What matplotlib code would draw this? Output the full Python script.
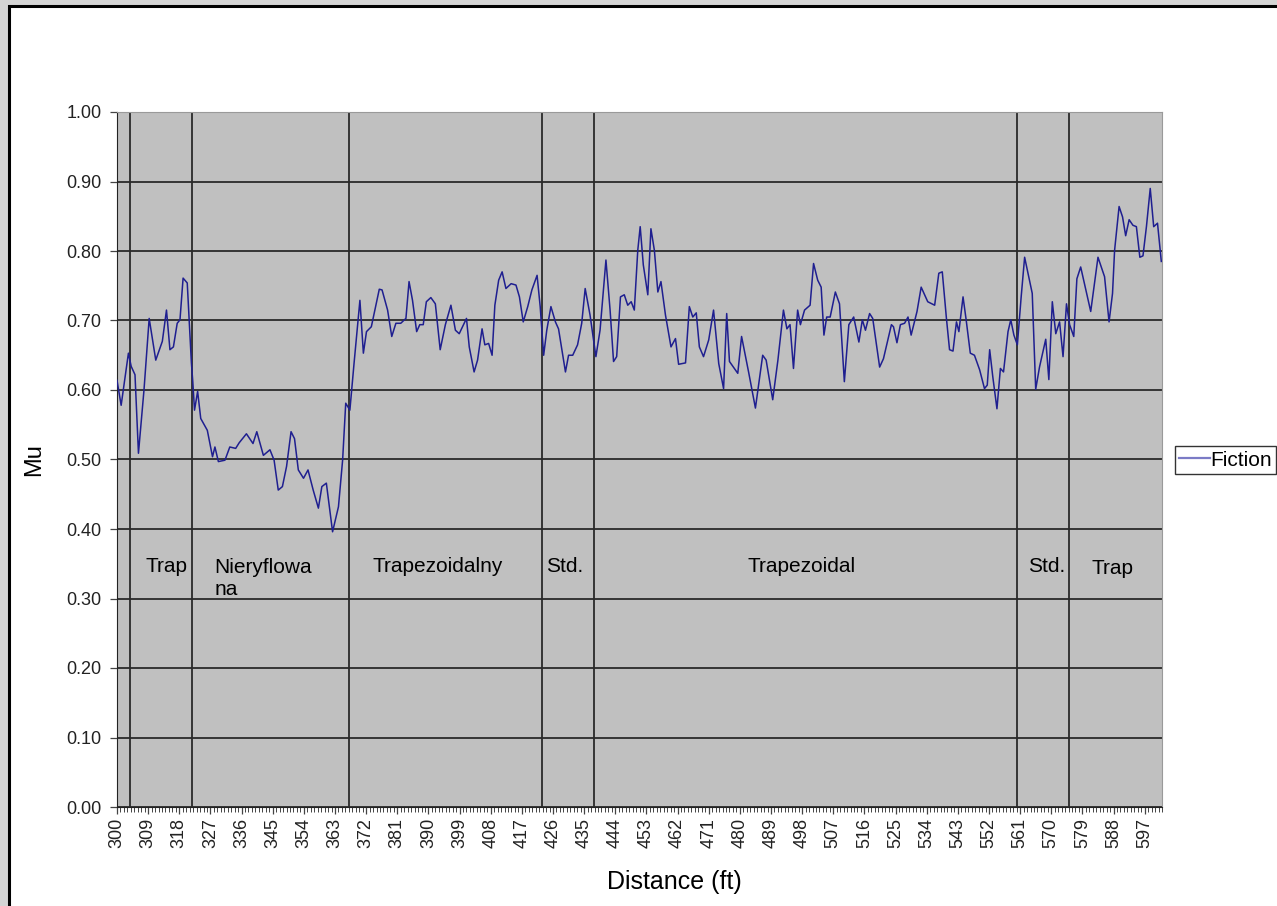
"""
Friction (Mu) vs distance chart - Excel style recreation
"""
import matplotlib
matplotlib.use('Agg')
import matplotlib.pyplot as plt
from matplotlib.lines import Line2D
from matplotlib.patches import Rectangle
from matplotlib.ticker import MultipleLocator, FormatStrFormatter

plt.rcParams['font.family'] = ['Liberation Sans', 'DejaVu Sans']

# Distance (ft) and friction value
distance_ft = [
    300.0, 301.2, 303.3, 304.1, 305.2, 306.2, 307.8, 309.3, 311.2, 313.1,
    314.3, 315.3, 316.3, 317.4, 318.2, 319.1, 320.3, 321.5, 321.9, 322.4,
    323.3, 324.2, 326.1, 327.6, 328.3, 329.3, 331.2, 332.6, 334.3, 335.3,
    337.4, 339.3, 340.4, 342.3, 344.2, 345.4, 346.6, 347.8, 349.0, 350.3,
    351.3, 352.4, 353.9, 355.2, 356.7, 358.2, 359.2, 360.5, 362.3, 364.0,
    365.2, 366.1, 367.3, 368.5, 370.2, 371.2, 372.1, 373.5, 375.8, 376.6,
    378.2, 379.4, 380.6, 382.0, 383.5, 384.4, 385.4, 386.6, 387.5, 388.5,
    389.4, 390.7, 392.0, 393.4, 394.9, 396.5, 397.8, 398.9, 401.0, 401.8,
    403.2, 404.2, 405.5, 406.3, 407.4, 408.4, 409.2, 410.3, 411.3, 412.4,
    413.9, 415.3, 416.3, 417.4, 418.7, 419.9, 421.4, 422.3, 423.3, 424.2,
    425.4, 426.7, 427.6, 429.6, 430.5, 431.7, 433.1, 434.3, 435.3, 436.7,
    438.4, 439.6, 441.3, 442.5, 443.5, 444.4, 445.5, 446.6, 447.6, 448.6,
    449.5, 450.5, 451.2, 452.1, 453.4, 454.3, 455.3, 456.3, 457.2, 458.5,
    460.1, 461.4, 462.3, 464.3, 465.4, 466.4, 467.4, 468.3, 469.5, 471.0,
    472.4, 473.9, 475.3, 476.2, 477.0, 479.4, 480.5, 482.6, 484.5, 486.6,
    487.6, 489.5, 491.0, 492.6, 493.6, 494.5, 495.5, 496.7, 497.5, 498.7,
    500.3, 501.3, 502.5, 503.5, 504.3, 505.1, 506.1, 507.6, 508.8, 510.2,
    511.5, 512.9, 514.4, 515.4, 516.3, 517.5, 518.4, 520.4, 521.5, 523.8,
    524.4, 525.4, 526.4, 527.6, 528.6, 529.5, 531.2, 532.4, 534.3, 536.3,
    537.5, 538.5, 539.7, 540.6, 541.6, 542.6, 543.3, 544.5, 545.4, 546.6,
    547.8, 549.3, 550.7, 551.5, 552.2, 553.1, 554.3, 555.3, 556.2, 557.5,
    558.3, 559.2, 560.2, 561.3, 562.3, 563.5, 564.5, 565.5, 566.6, 568.4,
    569.3, 570.3, 571.3, 572.4, 573.4, 574.4, 575.3, 576.5, 577.4, 578.5,
    579.9, 581.4, 583.5, 585.4, 586.7, 587.7, 588.3, 589.6, 590.6, 591.5,
    592.5, 593.6, 594.6, 595.6, 596.5, 597.5, 598.6, 599.6, 600.7, 601.8,
]
mu = [
    0.614, 0.578, 0.653, 0.634, 0.622, 0.509, 0.600, 0.703, 0.643, 0.670,
    0.715, 0.658, 0.662, 0.696, 0.701, 0.761, 0.754, 0.639, 0.612, 0.571,
    0.598, 0.559, 0.542, 0.504, 0.518, 0.497, 0.499, 0.518, 0.516, 0.524,
    0.537, 0.523, 0.540, 0.506, 0.514, 0.499, 0.456, 0.461, 0.490, 0.540,
    0.530, 0.485, 0.473, 0.485, 0.456, 0.430, 0.461, 0.466, 0.396, 0.432,
    0.499, 0.581, 0.571, 0.638, 0.729, 0.653, 0.684, 0.691, 0.745, 0.744,
    0.715, 0.677, 0.696, 0.696, 0.703, 0.756, 0.729, 0.684, 0.694, 0.694,
    0.727, 0.733, 0.724, 0.658, 0.694, 0.722, 0.686, 0.681, 0.703, 0.662,
    0.626, 0.643, 0.688, 0.665, 0.667, 0.650, 0.722, 0.758, 0.770, 0.746,
    0.753, 0.751, 0.734, 0.698, 0.720, 0.744, 0.765, 0.720, 0.650, 0.686,
    0.720, 0.698, 0.688, 0.626, 0.650, 0.650, 0.665, 0.696, 0.746, 0.708,
    0.648, 0.686, 0.787, 0.715, 0.641, 0.648, 0.734, 0.737, 0.722, 0.727,
    0.715, 0.801, 0.835, 0.780, 0.737, 0.832, 0.801, 0.741, 0.756, 0.708,
    0.662, 0.674, 0.637, 0.639, 0.720, 0.705, 0.711, 0.662, 0.648, 0.672,
    0.715, 0.638, 0.602, 0.710, 0.641, 0.624, 0.677, 0.624, 0.574, 0.650,
    0.643, 0.586, 0.643, 0.715, 0.688, 0.694, 0.631, 0.715, 0.694, 0.715,
    0.722, 0.782, 0.758, 0.748, 0.679, 0.705, 0.705, 0.741, 0.724, 0.612,
    0.694, 0.705, 0.669, 0.701, 0.686, 0.710, 0.703, 0.633, 0.645, 0.694,
    0.691, 0.668, 0.694, 0.696, 0.705, 0.679, 0.713, 0.748, 0.727, 0.722,
    0.768, 0.770, 0.703, 0.658, 0.656, 0.698, 0.684, 0.734, 0.701, 0.653,
    0.650, 0.629, 0.602, 0.607, 0.658, 0.619, 0.573, 0.631, 0.626, 0.684,
    0.701, 0.679, 0.665, 0.734, 0.791, 0.763, 0.739, 0.601, 0.633, 0.673,
    0.615, 0.727, 0.681, 0.698, 0.648, 0.724, 0.694, 0.677, 0.760, 0.777,
    0.746, 0.713, 0.791, 0.763, 0.698, 0.739, 0.801, 0.864, 0.849, 0.822,
    0.845, 0.837, 0.835, 0.791, 0.793, 0.835, 0.890, 0.835, 0.840, 0.785,
]

# Section boundaries (ft) and section names
section_bounds = [303.8, 321.7, 367.1, 422.9, 437.9, 560.0, 575.0]
section_names = ['Trap', 'Nieryflowa\nna', 'Trapezoidalny', 'Std.',
                 'Trapezoidal', 'Std.', 'Trap']
# where each name sits (left edge in ft, vertical centre in Mu)
label_pos = [(308.1, 0.346), (328.1, 0.329), (373.7, 0.346), (424.1, 0.346),
             (482.2, 0.346), (563.2, 0.346), (581.7, 0.343)]

W, H = 1277, 906
fig = plt.figure(figsize=(W / 100, H / 100), dpi=100)
fig.patch.set_facecolor('#d4d4d4')

# white page with black left/top frame
page = Rectangle((8.5 / W, -0.05), 1.1, (H - 6) / H + 0.05,
                 transform=fig.transFigure, facecolor='white',
                 edgecolor='black', linewidth=2.2, zorder=-10)
fig.patches.append(page)

ax = fig.add_axes([117 / W, 99 / H, (1162 - 117) / W, (807 - 112) / H])
ax.set_facecolor('#c0c0c0')

ax.plot(distance_ft, mu, color='#1f1f90', linewidth=1.1, zorder=5)

ax.set_xlim(300, 602)
ax.set_ylim(0, 1.0)

# horizontal gridlines
ax.yaxis.set_major_locator(MultipleLocator(0.1))
ax.yaxis.set_major_formatter(FormatStrFormatter('%.2f'))
ax.grid(True, axis='y', color='#2a2a2a', linewidth=1.3, zorder=1)

# section boundary lines
for b in section_bounds:
    ax.axvline(b, color='#2a2a2a', linewidth=1.3, zorder=2)

for name, (lx, ly) in zip(section_names, label_pos):
    ax.text(lx, ly, name, fontsize=15, ha='left', va='center',
            linespacing=1.2, color='black', zorder=6)

# x ticks: labels every 9 ft, small ticks every ft
ax.xaxis.set_minor_locator(MultipleLocator(1))
ax.xaxis.set_major_formatter(FormatStrFormatter('%d'))
ax.set_xticks(range(300, 600, 9))
for lab in ax.get_xticklabels():
    lab.set_rotation(90)

ax.tick_params(axis='x', which='major', direction='out', length=5,
               width=0.9, labelsize=13, pad=3, colors='#444444',
               labelcolor='#222222')
ax.tick_params(axis='x', which='minor', direction='out', length=3.5,
               width=0.7, colors='#444444')
ax.tick_params(axis='y', direction='out', length=5, width=0.9,
               labelsize=13, pad=6, colors='#444444', labelcolor='#222222')

ax.spines['left'].set_color('#222222')
ax.spines['bottom'].set_color('#222222')
ax.spines['top'].set_color('#9a9a9a')
ax.spines['right'].set_color('#9a9a9a')

ax.set_ylabel('Mu', fontsize=17)
ax.yaxis.set_label_coords(-(117 - 45) / (1162 - 117), 0.5)
ax.set_xlabel('Distance (ft)', fontsize=18)
ax.xaxis.set_label_coords(0.533, -(870 - 807) / (807 - 112))

handle = Line2D([], [], color='#7b7bc6', linewidth=1.6)
leg = fig.legend([handle], ['Fiction'], loc='center left',
                 bbox_to_anchor=(1175 / W, 1 - 460 / H),
                 frameon=True, fancybox=False, fontsize=15,
                 borderpad=0.2, handlelength=1.5, handletextpad=0.0,
                 borderaxespad=0)
leg.get_frame().set_edgecolor('black')
leg.get_frame().set_linewidth(1.0)

fig.savefig('out.png', dpi=100, facecolor=fig.get_facecolor())
